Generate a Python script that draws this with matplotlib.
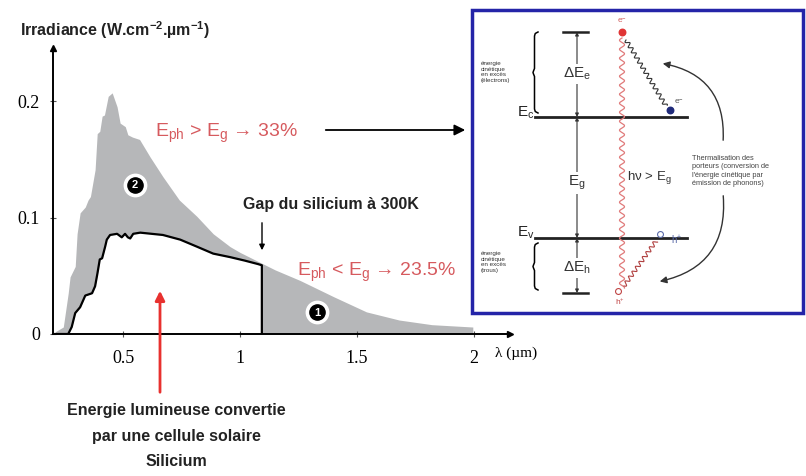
import numpy as np
import matplotlib.pyplot as plt
from matplotlib.patches import Rectangle, FancyArrowPatch

plt.rcParams['font.family'] = ['Liberation Sans', 'DejaVu Sans']
plt.rcParams['mathtext.default'] = 'regular'

# solar spectrum (grey area), wavelength in µm, irradiance in W.cm-2.µm-1
lam_sun = [0.21, 0.244, 0.265, 0.273, 0.295, 0.303, 0.316, 0.338, 0.35, 0.36, 0.38,
           0.389, 0.40, 0.41, 0.42, 0.436, 0.453, 0.474, 0.487, 0.509, 0.52, 0.54,
           0.57, 0.615, 0.67, 0.74, 0.815, 0.885, 0.957, 1.0, 1.05, 1.09, 1.15,
           1.256, 1.40, 1.54, 1.68, 1.82, 1.995]
irr_sun = [0.002, 0.006, 0.035, 0.049, 0.058, 0.086, 0.104, 0.109, 0.115, 0.118, 0.141,
           0.172, 0.174, 0.187, 0.188, 0.204, 0.207, 0.195, 0.181, 0.178, 0.171, 0.169,
           0.167, 0.152, 0.135, 0.115, 0.101, 0.086, 0.075, 0.070, 0.065, 0.061, 0.055,
           0.046, 0.032, 0.019, 0.012, 0.008, 0.006]

# energy converted by a silicon cell (black curve)
lam_si = [0.21, 0.265, 0.28, 0.295, 0.316, 0.338, 0.367, 0.38, 0.39, 0.40, 0.41, 0.423,
          0.43, 0.444, 0.474, 0.494, 0.508, 0.52, 0.53, 0.543, 0.573, 0.67, 0.744,
          0.815, 0.885, 0.957, 1.02, 1.077, 1.093, 1.093]
irr_si = [0.0, 0.0, 0.006, 0.018, 0.023, 0.033, 0.035, 0.041, 0.052, 0.064, 0.065, 0.075,
          0.081, 0.085, 0.086, 0.083, 0.086, 0.083, 0.082, 0.086, 0.087, 0.085, 0.081,
          0.075, 0.069, 0.066, 0.063, 0.060, 0.059, 0.0]

x_ticks = [0.5, 1, 1.5, 2]
x_ticklabels = ['0.5', '1', '1.5', '2']
y_ticks = [0, 0.1, 0.2]
y_ticklabels = ['0', '0.1', '0.2']

W, H = 806, 476
RED = '#d65a5e'
GREY = '#b6b7b9'


def rect(l, t, r, b):
    return [l / W, 1 - b / H, (r - l) / W, (b - t) / H]


fig = plt.figure(figsize=(W / 100, H / 100), dpi=100)

ax = fig.add_axes(rect(53, 48, 510, 334))
ax.fill_between(lam_sun, 0, irr_sun, color=GREY, lw=0)
ax.fill_between(lam_si, 0, irr_si, color='white', lw=0)
ax.plot(lam_si, irr_si, color='black', lw=1.6)
ax.set_xlim(0.2, 2.154)
ax.set_ylim(0, 0.2455)
for s in ['top', 'right']:
    ax.spines[s].set_visible(False)
for s in ['left', 'bottom']:
    ax.spines[s].set_linewidth(1.4)
ax.plot(1, 0, '>k', ms=4, transform=ax.transAxes, clip_on=False)
ax.plot(0, 1, '^k', ms=4, transform=ax.transAxes, clip_on=False)
ax.set_xticks(x_ticks)
ax.set_xticklabels(x_ticklabels, family='Liberation Serif', fontsize=13)
ax.set_yticks(y_ticks)
ax.set_yticklabels(y_ticklabels, family='Liberation Serif', fontsize=13)
ax.tick_params(direction='inout', length=5, width=0.8, color='#555555')
ax.tick_params(axis='x', pad=9)
ax.tick_params(axis='y', pad=7)
ax.patch.set_alpha(0)

# overlay in pixel coordinates for annotations and the schematic
ov = fig.add_axes([0, 0, 1, 1])
ov.set_xlim(0, W)
ov.set_ylim(H, 0)
ov.axis('off')
ov.patch.set_alpha(0)

ov.text(20, 30, 'Irradiance (W.cm$^{-2}$.µm$^{-1}$)', fontsize=11.5, fontweight='bold',
        color='#222222', va='center', ha='left')
ov.text(495, 353, 'λ (µm)', family='Liberation Serif', fontsize=11, va='center', ha='left')

# numbered discs
for (px, py, n) in [(135, 185, '2'), (317, 312, '1')]:
    ov.scatter([px], [py], s=260, color='white', zorder=5)
    ov.scatter([px], [py], s=120, color='black', zorder=6)
    ov.text(px, py + 0.5, n, color='white', fontsize=8, fontweight='bold',
            ha='center', va='center', zorder=7)

ov.text(155, 133, 'E$_{ph}$ > E$_{g}$ → 33%', color=RED, fontsize=14,
        va='center', ha='left')
ov.annotate('', xy=(468, 130), xytext=(323, 130),
            arrowprops=dict(arrowstyle='-|>', color='black', lw=1.3, mutation_scale=16))
ov.text(243, 205, 'Gap du silicium à 300K', fontsize=11.5, fontweight='bold',
        color='#222222', va='center', ha='left')
ov.annotate('', xy=(262, 253), xytext=(262, 220),
            arrowprops=dict(arrowstyle='-|>', color='black', lw=1.0, mutation_scale=8))
ov.text(297, 272, 'E$_{ph}$ < E$_{g}$ → 23.5%', color=RED, fontsize=14,
        va='center', ha='left')

ov.annotate('', xy=(160, 288), xytext=(160, 395),
            arrowprops=dict(arrowstyle='-|>', color='#e8312f', lw=2, mutation_scale=14))
for i, line in enumerate(['Energie lumineuse convertie', 'par une cellule solaire', 'Silicium']):
    ov.text(176, 410 + 26 * i, line, fontsize=11.5, fontweight='bold', color='#222222',
            ha='center', va='center')

# schematic on the right
ov.add_patch(Rectangle((472, 10), 331, 303, fill=False, edgecolor='#2424a8', lw=2.5))


def wavy(x0, y0, x1, y1, amp, wl, **kw):
    L = np.hypot(x1 - x0, y1 - y0)
    t = np.linspace(0, 1, 500)
    nx, ny = -(y1 - y0) / L, (x1 - x0) / L
    off = amp * np.sin(2 * np.pi * t * L / wl)
    ov.plot(x0 + t * (x1 - x0) + off * nx, y0 + t * (y1 - y0) + off * ny, **kw)


def brace(x, top, bot, w=5):
    mid = (top + bot) / 2
    xs = [x + w, x + w * 0.45, x + w * 0.3, x + w * 0.3, x + w * 0.1, x, x + w * 0.1,
          x + w * 0.3, x + w * 0.3, x + w * 0.45, x + w]
    ys = [top, top + 1.5, top + 4, mid - 4, mid - 1.5, mid, mid + 1.5, mid + 4,
          bot - 4, bot - 1.5, bot]
    ov.plot(xs, ys, color='black', lw=1.1)


ov.plot([535, 687], [117, 117], color='#222222', lw=2)
ov.plot([535, 687], [238, 238], color='#222222', lw=2)
ov.plot([563, 588], [32, 32], color='#222222', lw=1.8)
ov.plot([563, 588], [293, 293], color='#222222', lw=1.8)
for (a, b) in [(32, 117), (117, 238), (238, 293)]:
    ov.annotate('', xy=(577, a), xytext=(577, b),
                arrowprops=dict(arrowstyle='<|-|>', color='#333333', lw=0.8, mutation_scale=5,
                                shrinkA=0, shrinkB=0))
box_w = dict(facecolor='white', edgecolor='none', pad=1)
ov.text(577, 74, 'ΔE$_e$', fontsize=11, ha='center', va='center', color='#333333', bbox=box_w)
ov.text(577, 183, 'E$_g$', fontsize=11, ha='center', va='center', color='#333333', bbox=box_w)
ov.text(577, 268, 'ΔE$_h$', fontsize=11, ha='center', va='center', color='#333333', bbox=box_w)
ov.text(526, 113, 'E$_c$', fontsize=11, ha='center', va='center', color='#222222')
ov.text(526, 233, 'E$_v$', fontsize=11, ha='center', va='center', color='#222222')

brace(533, 32, 113)
brace(533, 243, 290)
ov.text(481, 72, 'énergie\ncinétique\nen excès\n(électrons)', fontsize=4.5, color='#333333',
        ha='left', va='center', linespacing=1.2)
ov.text(481, 262, 'énergie\ncinétique\nen excès\n(trous)', fontsize=4.5, color='#333333',
        ha='left', va='center', linespacing=1.2)

wavy(622, 38, 622, 288, 2.5, 9, color='#e07a7a', lw=0.9)
wavy(626, 40, 666, 106, 2.0, 6, color='#333333', lw=0.8)
wavy(624, 286, 656, 241, 2.0, 6, color='#b04040', lw=0.8)

ov.scatter([622], [32], s=22, color='#e03535', zorder=5)
ov.scatter([670], [110], s=22, color='#1f2a7a', zorder=5)
ov.scatter([660], [234], s=18, facecolor='white', edgecolor='#5a6aa8', lw=0.8, zorder=5)
ov.scatter([618], [291], s=18, facecolor='white', edgecolor='#c04545', lw=0.8, zorder=5)
ov.text(622, 21, 'e$^{-}$', fontsize=6, color='#d06060', ha='center', va='center')
ov.text(679, 102, 'e$^{-}$', fontsize=6, color='#555555', ha='center', va='center')
ov.text(677, 240, 'h$^{+}$', fontsize=7, color='#5a6aa8', ha='center', va='center')
ov.text(620, 302, 'h$^{+}$', fontsize=6, color='#c04545', ha='center', va='center')

ov.text(627, 178, 'hν > E$_g$', fontsize=9.5, color='#333333', ha='left', va='center',
        bbox=box_w)
ov.text(692, 171, "Thermalisation des\nporteurs (conversion de\nl'énergie cinétique par\némission de phonons)",
        fontsize=5.3, color='#444444', ha='left', va='center', linespacing=1.25)

ov.add_patch(FancyArrowPatch((723, 143), (660, 63), connectionstyle='arc3,rad=0.45',
                             arrowstyle='-|>', mutation_scale=10, lw=1, color='#333333'))
ov.add_patch(FancyArrowPatch((723, 193), (657, 282), connectionstyle='arc3,rad=-0.45',
                             arrowstyle='-|>', mutation_scale=10, lw=1, color='#333333'))

fig.savefig('out.png', dpi=100)
